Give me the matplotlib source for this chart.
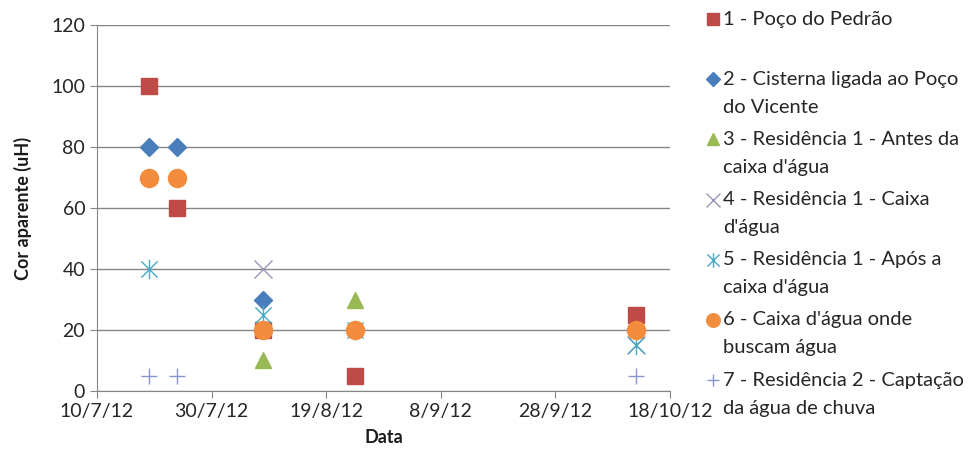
import datetime as dt
import matplotlib
matplotlib.use("Agg")
import matplotlib.pyplot as plt
import matplotlib.dates as mdates
from matplotlib.lines import Line2D
from matplotlib.path import Path

plt.rcParams['font.family'] = ['Lato', 'DejaVu Sans']

# Dados (cor aparente, uH)
d = dt.datetime
s1_dates = [d(2012, 7, 19), d(2012, 7, 24), d(2012, 8, 8), d(2012, 8, 24), d(2012, 10, 12)]
s1_vals = [100, 60, 20, 5, 25]
s2_dates = [d(2012, 7, 19), d(2012, 7, 24), d(2012, 8, 8)]
s2_vals = [80, 80, 30]
s3_dates = [d(2012, 8, 8), d(2012, 8, 24)]
s3_vals = [10, 30]
s4_dates = [d(2012, 8, 8), d(2012, 10, 12)]
s4_vals = [40, 15]
s5_dates = [d(2012, 7, 19), d(2012, 8, 8), d(2012, 8, 24), d(2012, 10, 12)]
s5_vals = [40, 25, 20, 15]
s6_dates = [d(2012, 7, 19), d(2012, 7, 24), d(2012, 8, 8), d(2012, 8, 24), d(2012, 10, 12)]
s6_vals = [70, 70, 20, 20, 20]
s7_dates = [d(2012, 7, 19), d(2012, 7, 24), d(2012, 10, 12)]
s7_vals = [5, 5, 5]

labels = [('1 - Poço do Pedrão', ''),
          ('2 - Cisterna ligada ao Poço', 'do Vicente'),
          ('3 - Residência 1 - Antes da', 'caixa d\'água'),
          ('4 - Residência 1 - Caixa', 'd\'água'),
          ('5 - Residência 1 - Após a', 'caixa d\'água'),
          ('6 - Caixa d\'água onde', 'buscam água'),
          ('7 - Residência 2 - Captação', 'da água de chuva')]

# marcador asterisco estilo Excel (x + barra vertical)
star = Path([(-0.5, -0.5), (0.5, 0.5), (-0.5, 0.5), (0.5, -0.5), (0, -0.6), (0, 0.6)],
            [Path.MOVETO, Path.LINETO, Path.MOVETO, Path.LINETO, Path.MOVETO, Path.LINETO])

styles = [dict(marker='s', color='#BE4B48', ms=12),
          dict(marker='D', color='#4A7EBB', ms=9),
          dict(marker='^', color='#98B954', ms=11),
          dict(marker='x', color='#9C94B4', ms=13, mew=1),
          dict(marker=star, color='#46AAC5', ms=14, mew=1),
          dict(marker='o', color='#F38C3C', ms=13),
          dict(marker='+', color='#8896CC', ms=12, mew=1)]
series = [(s1_dates, s1_vals), (s2_dates, s2_vals), (s3_dates, s3_vals), (s4_dates, s4_vals),
          (s5_dates, s5_vals), (s6_dates, s6_vals), (s7_dates, s7_vals)]

fig = plt.figure(figsize=(9.76, 4.66), dpi=100)
ax = fig.add_axes([0.0994, 0.161, 0.587, 0.785])

for (xs, ys), st in zip(series, styles):
    ax.plot(xs, ys, ls='none', **st)

ax.set_ylim(0, 120)
ax.set_yticks(range(0, 121, 20))
ax.set_xlim(d(2012, 7, 10), d(2012, 10, 18))
ax.set_xticks([d(2012, 7, 10) + dt.timedelta(days=20 * i) for i in range(6)])
ax.xaxis.set_major_formatter(mdates.DateFormatter('%-d/%-m/%y'))

ax.grid(axis='y', color='#868686', lw=1)
ax.set_axisbelow(True)
for sp in ['top', 'right']:
    ax.spines[sp].set_visible(False)
for sp in ['left', 'bottom']:
    ax.spines[sp].set_color('#868686')
ax.tick_params(axis='both', labelsize=14, colors='#868686', labelcolor='#262626', length=5)
ax.tick_params(axis='x', pad=4)

ax.set_xlabel('Data', fontsize=13, fontweight='bold', labelpad=6, color='#1a1a1a')
ax.set_ylabel('Cor aparente (uH)', fontsize=13, fontweight='bold', labelpad=14, color='#1a1a1a')

# legenda à direita (estilo Excel: marcador alinhado com a primeira linha)
W, H = 976, 466
for i, ((l1, l2), st) in enumerate(zip(labels, styles)):
    yc = 19 + 60.2 * i
    st_leg = dict(st)
    st_leg['ms'] = st['ms'] * 0.75
    fig.add_artist(Line2D([713 / W], [1 - yc / H], transform=fig.transFigure, ls='none', **st_leg))
    fig.text(723 / W, 1 - yc / H, l1, fontsize=14.5, va='center', ha='left', color='#262626')
    if l2:
        fig.text(723 / W, 1 - (yc + 28) / H, l2, fontsize=14.5, va='center', ha='left', color='#262626')

fig.savefig('out.png', dpi=100)
